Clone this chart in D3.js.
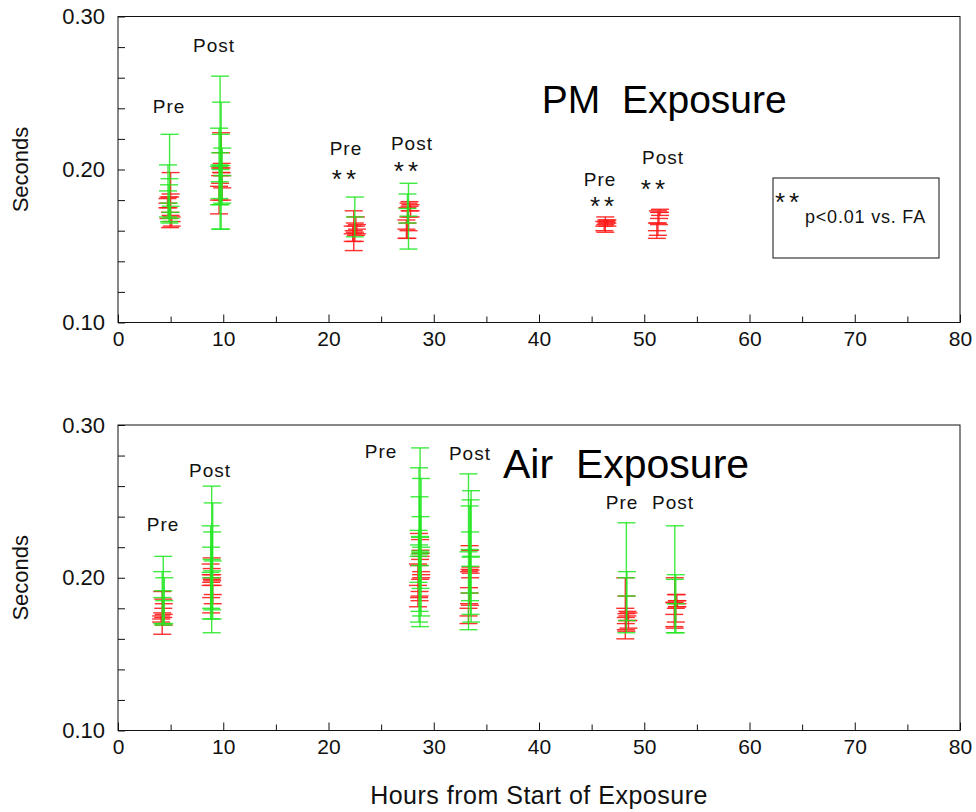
<!DOCTYPE html>
<html>
<head>
<meta charset="utf-8">
<script src="https://cdn.jsdelivr.net/npm/d3@7"></script>
<style>
  html, body { margin: 0; padding: 0; background: #fff; }
  svg { display: block; font-family: "Liberation Sans", Arial, sans-serif; }
</style>
</head>
<body>
<svg id="chart" width="976" height="812"></svg>
<script>
// Hours axis ticks and labels
const hourMajor = [0, 10, 20, 30, 40, 50, 60, 70, 80];
const hourMinor = [5, 15, 25, 35, 45, 55, 65, 75];
const secTicks = [0.10, 0.12, 0.14, 0.16, 0.18, 0.20, 0.22, 0.24, 0.26, 0.28, 0.30];
const secLabels = [0.10, 0.20, 0.30];

// Each entry: [hours, mean seconds, SD]
const pmRed = [
  [5.0, 0.184, 0.014], [4.8, 0.175, 0.007], [4.95, 0.172, 0.010], [4.7, 0.178, 0.003], [5.1, 0.166, 0.003],
  [9.8, 0.211, 0.013], [9.7, 0.196, 0.005], [9.9, 0.188, 0.008], [9.6, 0.180, 0.009], [9.85, 0.201, 0.003],
  [22.4, 0.160, 0.013], [22.6, 0.163, 0.006], [22.5, 0.159, 0.006], [22.7, 0.161, 0.003], [22.3, 0.158, 0.005],
  [27.7, 0.176, 0.003], [27.6, 0.169, 0.009], [27.4, 0.161, 0.006], [27.8, 0.173, 0.004], [27.5, 0.165, 0.010],
  [46.3, 0.164, 0.005], [46.5, 0.165, 0.002], [46.2, 0.163, 0.003], [46.4, 0.166, 0.001],
  [51.5, 0.172, 0.002], [51.3, 0.165, 0.008], [51.2, 0.160, 0.005], [51.4, 0.168, 0.004]
];
const pmGreen = [
  [4.9, 0.194, 0.029], [4.75, 0.186, 0.017], [5.0, 0.172, 0.004], [4.85, 0.178, 0.012],
  [9.7, 0.211, 0.050], [9.8, 0.2025, 0.0415], [9.6, 0.202, 0.025], [9.75, 0.200, 0.023], [9.9, 0.196, 0.018], [9.65, 0.192, 0.011],
  [22.5, 0.169, 0.013],
  [27.6, 0.1695, 0.0215], [27.5, 0.1745, 0.0095]
];
const airRed = [
  [4.2, 0.177, 0.014], [4.3, 0.180, 0.006], [4.1, 0.173, 0.002], [4.35, 0.176, 0.007],
  [8.9, 0.206, 0.007], [8.8, 0.202, 0.007], [9.0, 0.189, 0.006], [8.85, 0.187, 0.010], [8.95, 0.200, 0.002],
  [28.6, 0.208, 0.021], [28.7, 0.212, 0.013], [28.5, 0.195, 0.014], [28.8, 0.202, 0.002], [28.65, 0.188, 0.003], [28.75, 0.216, 0.002],
  [33.4, 0.2055, 0.0155], [33.5, 0.205, 0.002], [33.35, 0.1935, 0.0105], [33.45, 0.200, 0.018], [33.3, 0.175, 0.005],
  [48.2, 0.180, 0.020], [48.3, 0.1765, 0.0115], [48.4, 0.175, 0.003], [48.5, 0.172, 0.005], [48.25, 0.170, 0.004],
  [52.9, 0.1835, 0.0165], [53.1, 0.185, 0.004], [53.0, 0.180, 0.009], [52.85, 0.176, 0.008], [53.15, 0.183, 0.002]
];
const airGreen = [
  [4.3, 0.1915, 0.0225], [4.2, 0.187, 0.017], [4.4, 0.185, 0.015],
  [8.9, 0.212, 0.048], [9.0, 0.211, 0.038], [8.8, 0.2035, 0.0305], [8.95, 0.2045, 0.0255], [8.85, 0.200, 0.020],
  [28.7, 0.2265, 0.0585], [28.6, 0.2215, 0.0505], [28.8, 0.220, 0.045], [28.65, 0.2155, 0.0375],
  [28.75, 0.2165, 0.0235], [28.7, 0.2175, 0.0095], [28.55, 0.214, 0.017],
  [33.3, 0.217, 0.051], [33.55, 0.214, 0.043], [33.5, 0.2135, 0.0375], [33.4, 0.2185, 0.0285], [33.45, 0.2075, 0.0225],
  [48.3, 0.200, 0.036], [48.35, 0.188, 0.016],
  [52.9, 0.199, 0.035], [53.0, 0.183, 0.019]
];

// Annotations: [text, hours, seconds]
const pmNotes = [["Pre", 4.85, 0.2367], ["Post", 9.12, 0.2767], ["Pre", 21.66, 0.2092],
                 ["Post", 27.93, 0.2130], ["Pre", 45.8, 0.1895], ["Post", 51.78, 0.2033]];
const pmStars = [[21.66, 0.198], [27.55, 0.2030], [46.18, 0.1800], [51.02, 0.1915]];
const airNotes = [["Pre", 4.28, 0.2305], ["Post", 8.74, 0.2659], ["Pre", 24.99, 0.2784],
                  ["Post", 33.44, 0.2770], ["Pre", 47.89, 0.2449], ["Post", 52.73, 0.2449]];
const pmTitle = ["PM\u00a0\u00a0Exposure", 51.9, 0.2367];
const airTitle = ["Air\u00a0\u00a0Exposure", 48.27, 0.2652];

const svg = d3.select("#chart");
const ink = "#111";
const RED = "#ff1a1a";
const GREEN = "#1ee61e";

const x = d3.scaleLinear([0, 80], [118, 960]);

function panel(yTop, yBottom, red, green, notes, stars, title, titleSize) {
  const y = d3.scaleLinear([0.10, 0.30], [yBottom, yTop]);
  const g = svg.append("g");

  // bottom axis: major and minor inward ticks
  const xMajor = g.append("g").attr("transform", `translate(0,${yBottom})`)
    .call(d3.axisBottom(x).tickValues(hourMajor).tickSize(-8).tickSizeOuter(0)
      .tickPadding(9).tickFormat(d3.format("d")));
  const xMinor = g.append("g").attr("transform", `translate(0,${yBottom})`)
    .call(d3.axisBottom(x).tickValues(hourMinor).tickSize(-6).tickSizeOuter(0).tickFormat(""));
  const yAx = g.append("g").attr("transform", `translate(118,0)`)
    .call(d3.axisLeft(y).tickValues(secTicks).tickSize(-7).tickSizeOuter(0).tickPadding(13)
      .tickFormat(d => secLabels.some(v => Math.abs(v - d) < 1e-9) ? d3.format(".2f")(d) : ""));
  [xMajor, xMinor, yAx].forEach(a => {
    a.select(".domain").remove();
    a.selectAll("line").attr("stroke", ink);
    a.selectAll("text").attr("fill", ink).attr("font-size", 22)
      .attr("font-family", "Liberation Sans, Arial, sans-serif");
  });
  xMajor.selectAll("text").attr("font-size", 21);

  // frame
  g.append("rect").attr("x", x(0)).attr("y", yTop).attr("width", x(80) - x(0)).attr("height", yBottom - yTop)
    .attr("fill", "none").attr("stroke", ink).attr("stroke-width", 1);

  g.append("text").attr("transform", `translate(28,${(yTop + yBottom) / 2}) rotate(-90)`)
    .attr("text-anchor", "middle").attr("font-size", 22).attr("fill", ink).text("Seconds");

  // error bars with caps and a mean tick
  function bars(data, color, opacity) {
    const cap = 9;
    const b = g.append("g").attr("stroke", color).attr("stroke-width", 1.4)
      .attr("stroke-opacity", opacity).attr("fill", "none");
    const s = b.selectAll("g").data(data).join("g");
    s.append("line").attr("x1", d => x(d[0])).attr("x2", d => x(d[0]))
      .attr("y1", d => y(d[1] - d[2])).attr("y2", d => y(d[1] + d[2]));
    [-1, 0, 1].forEach(k => {
      s.append("line").attr("x1", d => x(d[0]) - cap).attr("x2", d => x(d[0]) + cap)
        .attr("y1", d => y(d[1] + k * d[2])).attr("y2", d => y(d[1] + k * d[2]));
    });
  }
  bars(red, RED, 0.9);
  bars(green, GREEN, 0.85);

  g.selectAll("text.note").data(notes).join("text").attr("class", "note")
    .attr("x", d => x(d[1])).attr("y", d => y(d[2])).attr("text-anchor", "middle")
    .attr("font-size", 19).attr("letter-spacing", 1).attr("fill", ink).text(d => d[0]);

  g.selectAll("text.star").data(stars).join("text").attr("class", "star")
    .attr("x", d => x(d[0])).attr("y", d => y(d[1]) + 15).attr("text-anchor", "middle")
    .attr("font-size", 26).attr("letter-spacing", 4).attr("fill", ink).text("**");

  g.append("text").attr("x", x(title[1])).attr("y", y(title[2])).attr("text-anchor", "middle")
    .attr("font-size", titleSize).attr("fill", "#000").text(title[0]);
  return g;
}

const pmPanel = panel(16.5, 322.5, pmRed, pmGreen, pmNotes, pmStars, pmTitle, 39);
panel(425, 730.5, airRed, airGreen, airNotes, [], airTitle, 41);

// significance key in the PM panel
const key = pmPanel.append("g");
key.append("rect").attr("x", 773).attr("y", 178).attr("width", 166).attr("height", 80)
  .attr("fill", "#fff").attr("stroke", ink).attr("stroke-width", 1);
key.append("text").attr("x", 775).attr("y", 211).attr("font-size", 26).attr("letter-spacing", 4)
  .attr("fill", ink).text("**");
key.append("text").attr("x", 805).attr("y", 223).attr("font-size", 18).attr("letter-spacing", 0.8)
  .attr("fill", ink).text("p<0.01 vs. FA");

svg.append("text").attr("x", 539).attr("y", 804).attr("text-anchor", "middle")
  .attr("font-size", 25).attr("letter-spacing", 0.5).attr("fill", ink).text("Hours from Start of Exposure");
</script>
</body>
</html>
